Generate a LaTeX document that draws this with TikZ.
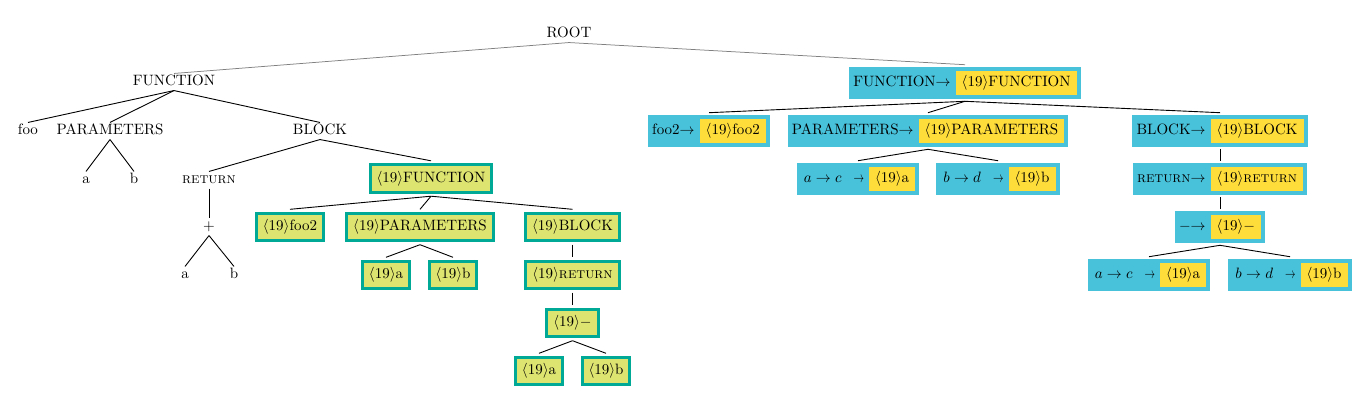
\documentclass[tikz,border=0pt]{standalone}
\definecolor{tealb}{RGB}{0,168,150}
\definecolor{limef}{RGB}{222,228,112}
\definecolor{blueb}{RGB}{72,194,219}
\definecolor{yelf}{RGB}{254,220,58}
\newcommand{\tagn}{$\langle$19$\rangle$}
\newcommand{\yb}[1]{{\setlength{\fboxsep}{3pt}\colorbox{yelf}{\hspace{1pt}\vphantom{$\langle$}#1\hspace{1pt}}}}
\newcommand{\sar}{\scalebox{0.7}[1]{$\rightarrow$}}
\begin{document}
\begin{tikzpicture}[x=0.6667pt,y=-0.6667pt,
  plain/.style={inner sep=1pt,text height=7pt,text depth=2pt},
  tbox/.style={draw=tealb,line width=2pt,fill=limef,inner sep=4.3pt,text height=7.5pt,text depth=2.5pt,outer sep=2.5pt},
  bbox/.style={fill=blueb,inner sep=2.7pt,outer sep=1.5pt},
  tedge/.style={line width=0.6pt},
  redge/.style={line width=0.5pt,gray}]
\useasboundingbox (0,0) rectangle (1368,408);
% left plain tree
\node[plain] (root) at (569,34) {ROOT};
\node[plain] (lf) at (174,82) {FUNCTION};
\node[plain] (foo) at (28,131) {foo};
\node[plain] (lpar) at (110,131) {PARAMETERS};
\node[plain] (lblk) at (320,131) {BLOCK};
\node[plain] (la) at (86,180) {a};
\node[plain] (lb) at (134,180) {b};
\node[plain] (lret) at (209,180) {\textsc{return}};
\node[plain] (plus) at (209,227) {$+$};
\node[plain] (la2) at (185,275) {a};
\node[plain] (lb2) at (234,275) {b};
% teal boxes
\node[tbox] (t1) at (431,178.5) {\tagn FUNCTION};
\node[tbox] (tfoo) at (290,227) {\tagn foo2};
\node[tbox] (tpar) at (420,227) {\tagn PARAMETERS};
\node[tbox] (tblk) at (572.5,227) {\tagn BLOCK};
\node[tbox] (ta) at (386,275) {\tagn a};
\node[tbox] (tb) at (453,275) {\tagn b};
\node[tbox] (tret) at (572.5,275) {\tagn\textsc{return}};
\node[tbox] (tmin) at (572.5,323) {\tagn$-$};
\node[tbox] (ta2) at (539,371) {\tagn a};
\node[tbox] (tb2) at (606,371) {\tagn b};
% right tree
\node[bbox] (rf) at (965,83) {FUNCTION$\rightarrow$ \yb{\tagn FUNCTION}};
\node[bbox] (rfoo) at (709,131) {foo2$\rightarrow$ \yb{\tagn foo2}};
\node[bbox] (rpar) at (928,131) {PARAMETERS$\rightarrow$ \yb{\tagn PARAMETERS}};
\node[bbox] (rblk) at (1220,131) {BLOCK$\rightarrow$ \yb{\tagn BLOCK}};
\node[bbox] (rac) at (858,179) {\hspace{2pt}$a\rightarrow c$\hspace{8pt}\sar\ \yb{\tagn a}};
\node[bbox] (rbd) at (998,179) {\hspace{2pt}$b\rightarrow d$\hspace{8pt}\sar\ \yb{\tagn b}};
\node[bbox] (rret) at (1220,179) {\textsc{return}$\rightarrow$ \yb{\tagn\textsc{return}}};
\node[bbox] (rmin) at (1220,227) {$-$$\rightarrow$ \yb{\tagn$-$}};
\node[bbox] (rac2) at (1149,275) {\hspace{2pt}$a\rightarrow c$\hspace{8pt}\sar\ \yb{\tagn a}};
\node[bbox] (rbd2) at (1290,275) {\hspace{2pt}$b\rightarrow d$\hspace{8pt}\sar\ \yb{\tagn b}};
% edges
\draw[redge] (root.south) -- (lf.north);
\draw[redge] (root.south) -- (rf.north);
\foreach \p/\c in {lf/foo,lf/lpar,lf/lblk,lpar/la,lpar/lb,lblk/lret,lblk/t1,lret/plus,plus/la2,plus/lb2,
  t1/tfoo,t1/tpar,t1/tblk,tpar/ta,tpar/tb,tblk/tret,tret/tmin,tmin/ta2,tmin/tb2,
  rf/rfoo,rf/rpar,rf/rblk,rpar/rac,rpar/rbd,rblk/rret,rret/rmin,rmin/rac2,rmin/rbd2}
  \draw[tedge] (\p.south) -- (\c.north);
\end{tikzpicture}
\end{document}
